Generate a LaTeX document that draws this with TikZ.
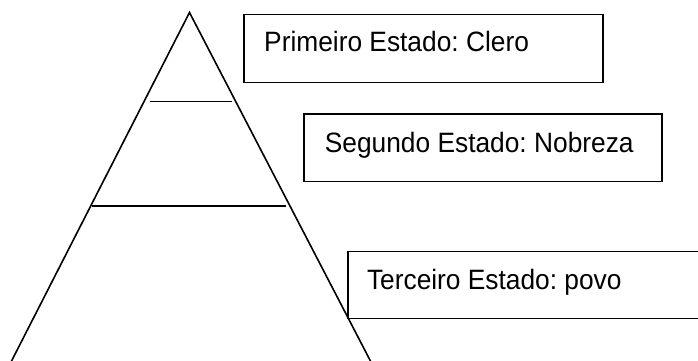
\documentclass[tikz,border=0pt]{standalone}
\usepackage{fontspec}
\usepackage{graphicx}
\setmainfont{Liberation Sans}
\usetikzlibrary{calc}
\newcommand{\esttxt}[1]{\scalebox{0.94}[1]{#1}}
\begin{document}
\frenchspacing
\begin{tikzpicture}[x=1pt,y=-1pt,
  edge/.style={line width=1.6pt,black},
  estbox/.style={draw,line width=1.6pt,rectangle,anchor=north west,inner sep=0pt},
  esttext/.style={anchor=base west,inner sep=0pt,font=\fontsize{28}{32}\selectfont}]
\useasboundingbox (0,0) rectangle (698,360);
\clip (0,0) rectangle (698,360);
\coordinate (apex) at (189.5,12.5);
\coordinate (bl) at (10.5,363);
\coordinate (br) at (371.5,363);
\draw[edge] (bl) -- (apex) -- (br);
\coordinate (l1a) at (150,101.3);
\coordinate (l1b) at (232,101.3);
\coordinate (l2a) at (92,206);
\coordinate (l2b) at (286,206);
\draw[edge] (l1a) -- (l1b);
\draw[edge] (l2a) -- (l2b);
\node[estbox,minimum width=359pt,minimum height=68pt] (b1) at (243,13.5) {};
\node[esttext] (t1) at ($(b1.north west)+(21,37.5)$) {\esttxt{Primeiro Estado: Clero}};
\node[estbox,minimum width=358pt,minimum height=67.5pt] (b2) at (303,113.3) {};
\node[esttext] (t2) at ($(b2.north west)+(21.7,39)$) {\esttxt{Segundo Estado: Nobreza}};
\node[estbox,minimum width=370pt,minimum height=67pt] (b3) at (347,250.7) {};
\node[esttext] (t3) at ($(b3.north west)+(19.8,38.6)$) {\esttxt{Terceiro Estado: povo}};
\end{tikzpicture}
\end{document}
